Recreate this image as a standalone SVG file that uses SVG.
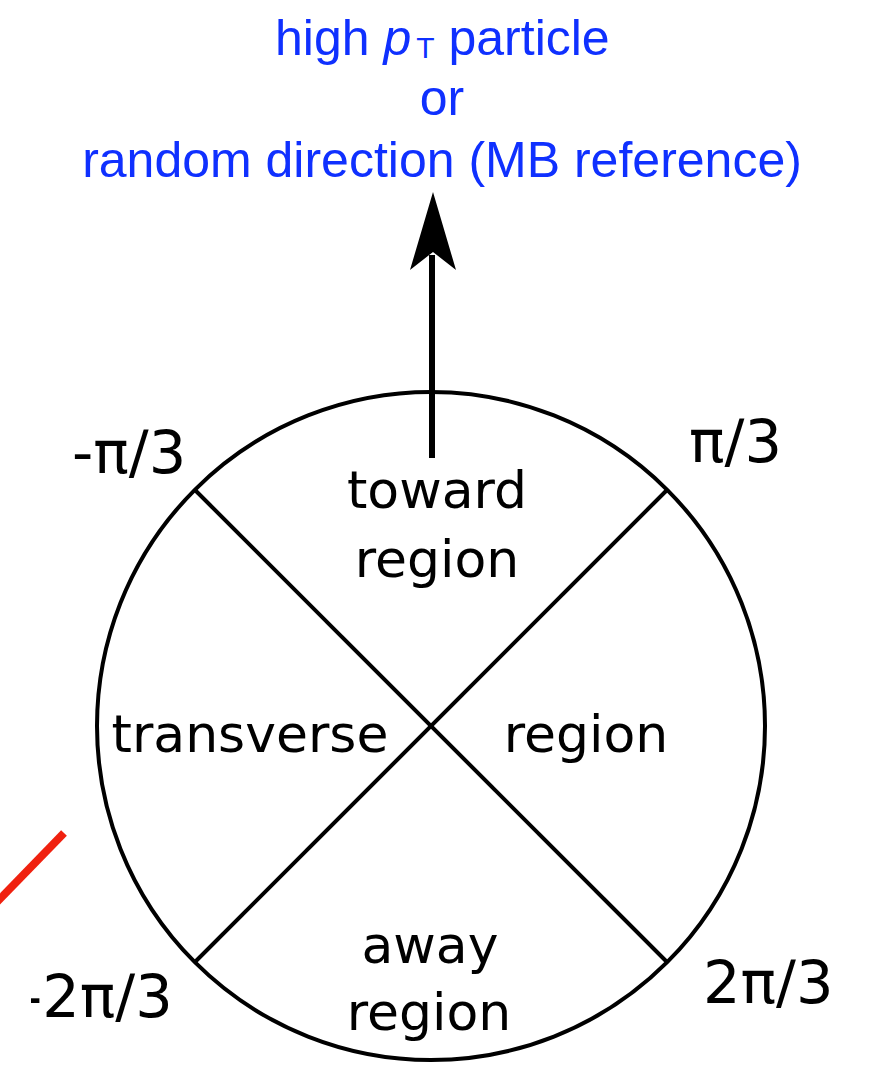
<svg xmlns="http://www.w3.org/2000/svg" width="872" height="1066" viewBox="0 0 872 1066">
<style>
.lbl{font-family:"DejaVu Sans",sans-serif;font-size:52px;fill:#000}
.ang{font-family:"DejaVu Sans",sans-serif;font-size:59px;fill:#000}
.blue{font-family:"Liberation Sans",Arial,sans-serif;font-size:50px;fill:#0f30ff}
.sub{font-size:30px}
.ln{stroke:#000;stroke-width:4;fill:none}
</style>
<defs>
<clipPath id="clipm"><rect x="31" y="940" width="200" height="126"/></clipPath>
</defs>
<rect width="872" height="1066" fill="#fff"/>
<g id="title">
<text class="blue" x="275" y="55">high <tspan font-style="italic">p</tspan><tspan class="sub" dx="5" dy="3">T</tspan><tspan dy="-3"> particle</tspan></text>
<text class="blue" x="442" y="115" text-anchor="middle">or</text>
<text class="blue" x="442" y="177" text-anchor="middle">random direction (MB reference)</text>
</g>
<g id="circle">
<circle class="ln" cx="431" cy="726" r="334"/>
</g>
<g id="connectors">
<line class="ln" x1="195" y1="490" x2="667" y2="962"/>
<line class="ln" x1="667" y1="490" x2="195" y2="962"/>
<line x1="432" y1="458" x2="432" y2="255" stroke="#000" stroke-width="6"/>
<polygon points="433,192 456,270 433,252 410,270" fill="#000"/>
<line x1="64" y1="833" x2="-4" y2="903" stroke="#f0210f" stroke-width="8"/>
</g>
<g id="toward">
<text class="lbl" x="437" y="508" text-anchor="middle">toward</text>
<text class="lbl" x="437" y="577" text-anchor="middle">region</text>
</g>
<g id="transverse">
<text class="lbl" x="250" y="752" text-anchor="middle">transverse</text>
</g>
<g id="region-right">
<text class="lbl" x="586" y="752" text-anchor="middle">region</text>
</g>
<g id="away">
<text class="lbl" x="430" y="963" text-anchor="middle">away</text>
<text class="lbl" x="429" y="1030" text-anchor="middle">region</text>
</g>
<g id="angles">
<text class="ang" x="72" y="473">-π/3</text>
<text class="ang" x="689" y="462">π/3</text>
<text class="ang" x="703" y="1003">2π/3</text>
<text class="ang" x="21" y="1017" clip-path="url(#clipm)">-2π/3</text>
</g>
</svg>
